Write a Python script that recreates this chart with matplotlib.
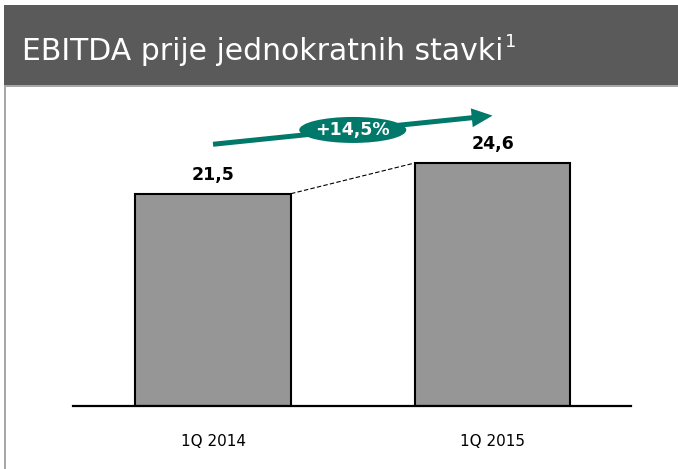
"""
EBITDA prije jednokratnih stavki - bar chart 1Q 2014 vs 1Q 2015
"""

import matplotlib
matplotlib.use("Agg")
import matplotlib.pyplot as plt
import matplotlib.transforms as mtransforms
from matplotlib.patches import Rectangle, Ellipse, FancyArrowPatch

#--------------------------------------------------------------

categories = ["1Q 2014", "1Q 2015"]
values = [21.5, 24.6]
value_labels = ["21,5", "24,6"]
growth_label = "+14,5%"
title = "EBITDA prije jednokratnih stavki"
title_note = "1"

BAR_COLOR = "#969696"
TEAL = "#00786a"
HEADER = "#5a5a5a"

#--------------------------------------------------------------

W, H = 678, 469
fig = plt.figure(figsize=(W / 100, H / 100), dpi=100)
fig.patch.set_facecolor("white")

def px_rect(x0, y0, x1, y1):
    """ pixel box (top-left origin) -> figure fraction """
    return (x0 / W, 1 - y1 / H, (x1 - x0) / W, (y1 - y0) / H)

def add_box(x0, y0, x1, y1, color):
    r = px_rect(x0, y0, x1, y1)
    fig.patches.append(Rectangle(r[:2], r[2], r[3], transform=fig.transFigure,
                                 fc=color, ec="none"))

# header band and frame
add_box(4, 5, W, 85, HEADER)
add_box(4, 85, W, 87, "#a8a8a8")
add_box(4, 85, 6, H, "#a8a8a8")
t = fig.text(22 / W, 1 - 60 / H, title, color="white", fontsize=21.5,
             family="DejaVu Sans", va="baseline", ha="left")
fig.canvas.draw()
bb = t.get_window_extent()
fig.text(bb.x1 / W + 0.002, 1 - 47 / H, title_note, color="white", fontsize=13,
         family="DejaVu Sans", va="baseline", ha="left")

#--------------------------------------------------------------

ax = fig.add_axes(px_rect(73, 86, 631, 406))
x = list(range(len(categories)))
bars = ax.bar(x, values, width=0.558, color=BAR_COLOR, edgecolor="black",
              linewidth=1.5, zorder=2)

ax.set_xlim(-0.501, 1.4955)
ax.set_ylim(0, 32.4)
for side in ["top", "right", "left"]:
    ax.spines[side].set_visible(False)
ax.spines["bottom"].set_linewidth(1.6)
ax.set_yticks([])
ax.set_xticks(x, categories, fontsize=11)
ax.tick_params(axis="x", length=0, pad=20)

for xi, val, lab in zip(x, values, value_labels):
    ax.annotate(lab, (xi, val), xytext=(0, 7), textcoords="offset points",
                ha="center", va="bottom", fontsize=12.5, fontweight="bold")

# dashed connector between bar tops
b0, b1 = bars[0], bars[1]
ax.plot([b0.get_x() + b0.get_width(), b1.get_x()], [values[0], values[1]],
        color="black", lw=0.8, ls=(0, (4, 2)), zorder=3)

# growth arrow
start = (x[0], values[0] + 5.0)
end = (x[1], values[1] + 4.8)
ax.add_patch(FancyArrowPatch(start, end,
                             arrowstyle="simple,head_length=0.75,head_width=0.68,tail_width=0.18",
                             mutation_scale=20, fc=TEAL, ec="none",
                             shrinkA=0, shrinkB=0, zorder=4))
mid = ((start[0] + end[0]) / 2, (start[1] + end[1]) / 2)
trans = fig.dpi_scale_trans + mtransforms.ScaledTranslation(mid[0], mid[1], ax.transData)
ax.add_patch(Ellipse((0, 0), 1.07, 0.26, transform=trans, fc=TEAL, ec="none",
                     zorder=5))
ax.text(mid[0], mid[1], growth_label, color="white", fontsize=12.5,
        fontweight="bold", ha="center", va="center", zorder=6)

fig.savefig("out.png", dpi=100)
